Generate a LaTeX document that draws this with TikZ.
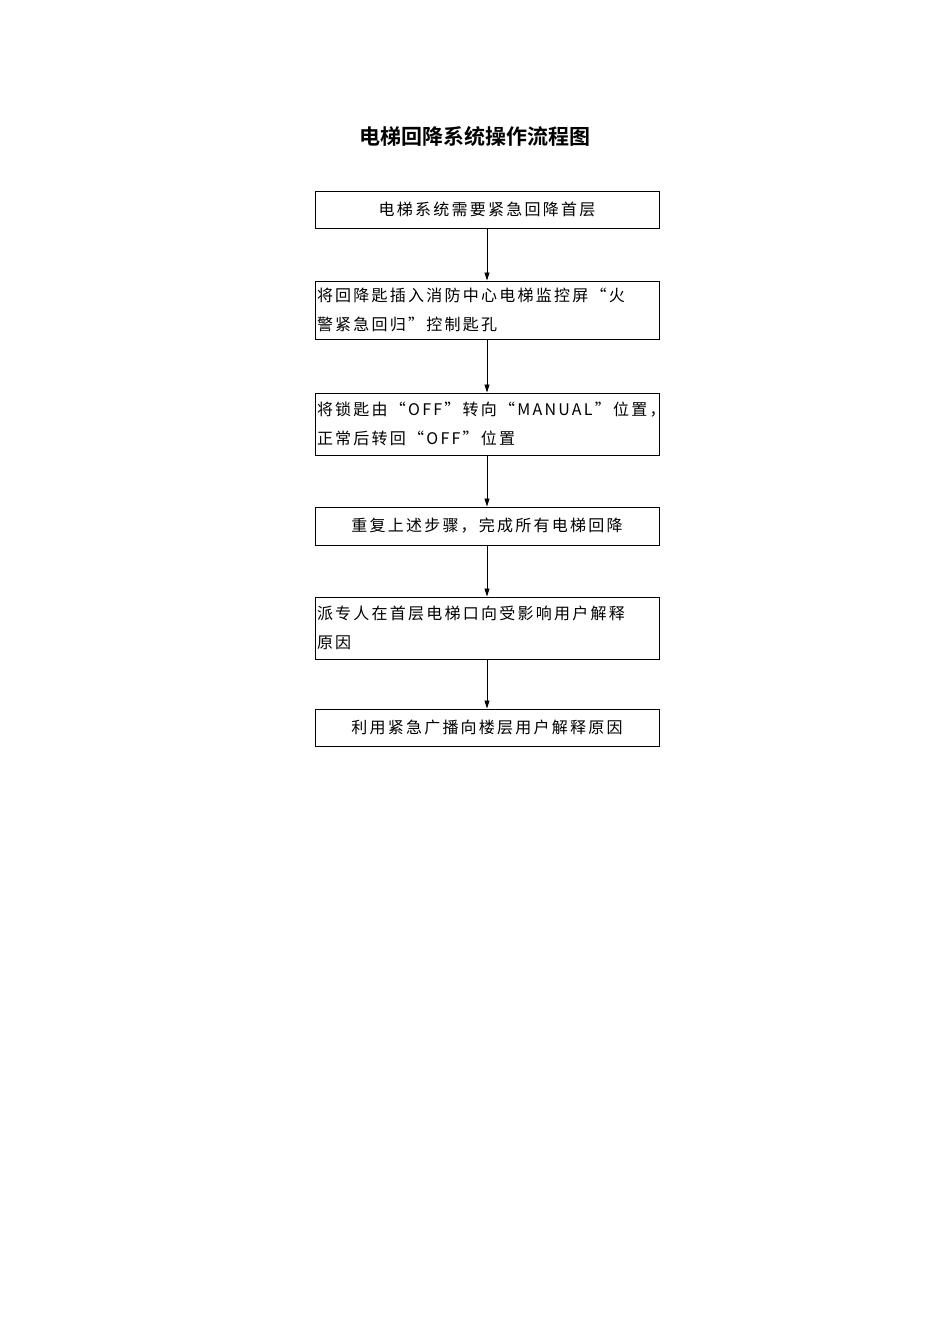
\documentclass[tikz,border=0pt]{standalone}
\usepackage{fontspec}
\setmainfont{Noto Sans CJK SC}
\newfontfamily\cjk[LetterSpace=14]{Noto Sans CJK SC}
\newfontfamily\cjkb[Scale=1]{Noto Sans CJK SC Bold}
\usetikzlibrary{arrows.meta}
\begin{document}
\begin{tikzpicture}[x=1pt,y=-1pt,
  bx/.style={draw,line width=0.9pt,minimum width=344pt,inner sep=2pt,font=\cjk\fontsize{16}{29}\selectfont},
  arr/.style={-{Triangle[length=8pt,width=5pt]},line width=0.8pt}]
\useasboundingbox (0,0) rectangle (950,1344);
\node[font=\cjkb\fontsize{21}{25}\selectfont] (t) at (475,136) {电梯回降系统操作流程图};
\node[bx,minimum height=37pt] (b1) at (487,209.5) {电梯系统需要紧急回降首层};
\node[bx,minimum height=58pt,align=left,text width=340pt] (b2) at (487,310) {将回降匙插入消防中心电梯监控屏“火\\警紧急回归”控制匙孔};
\node[bx,minimum height=62pt,align=left,text width=340pt] (b3) at (487,424) {将锁匙由“OFF”转向“MANUAL”位置，\\正常后转回“OFF”位置};
\node[bx,minimum height=38pt] (b4) at (487,526) {重复上述步骤，完成所有电梯回降};
\node[bx,minimum height=62pt,align=left,text width=340pt] (b5) at (487,628) {派专人在首层电梯口向受影响用户解释\\原因};
\node[bx,minimum height=37pt] (b6) at (487,727.5) {利用紧急广播向楼层用户解释原因};
\foreach \a/\b in {b1/b2,b2/b3,b3/b4,b4/b5,b5/b6}\draw[arr] (\a) -- (\b);
\end{tikzpicture}
\end{document}
